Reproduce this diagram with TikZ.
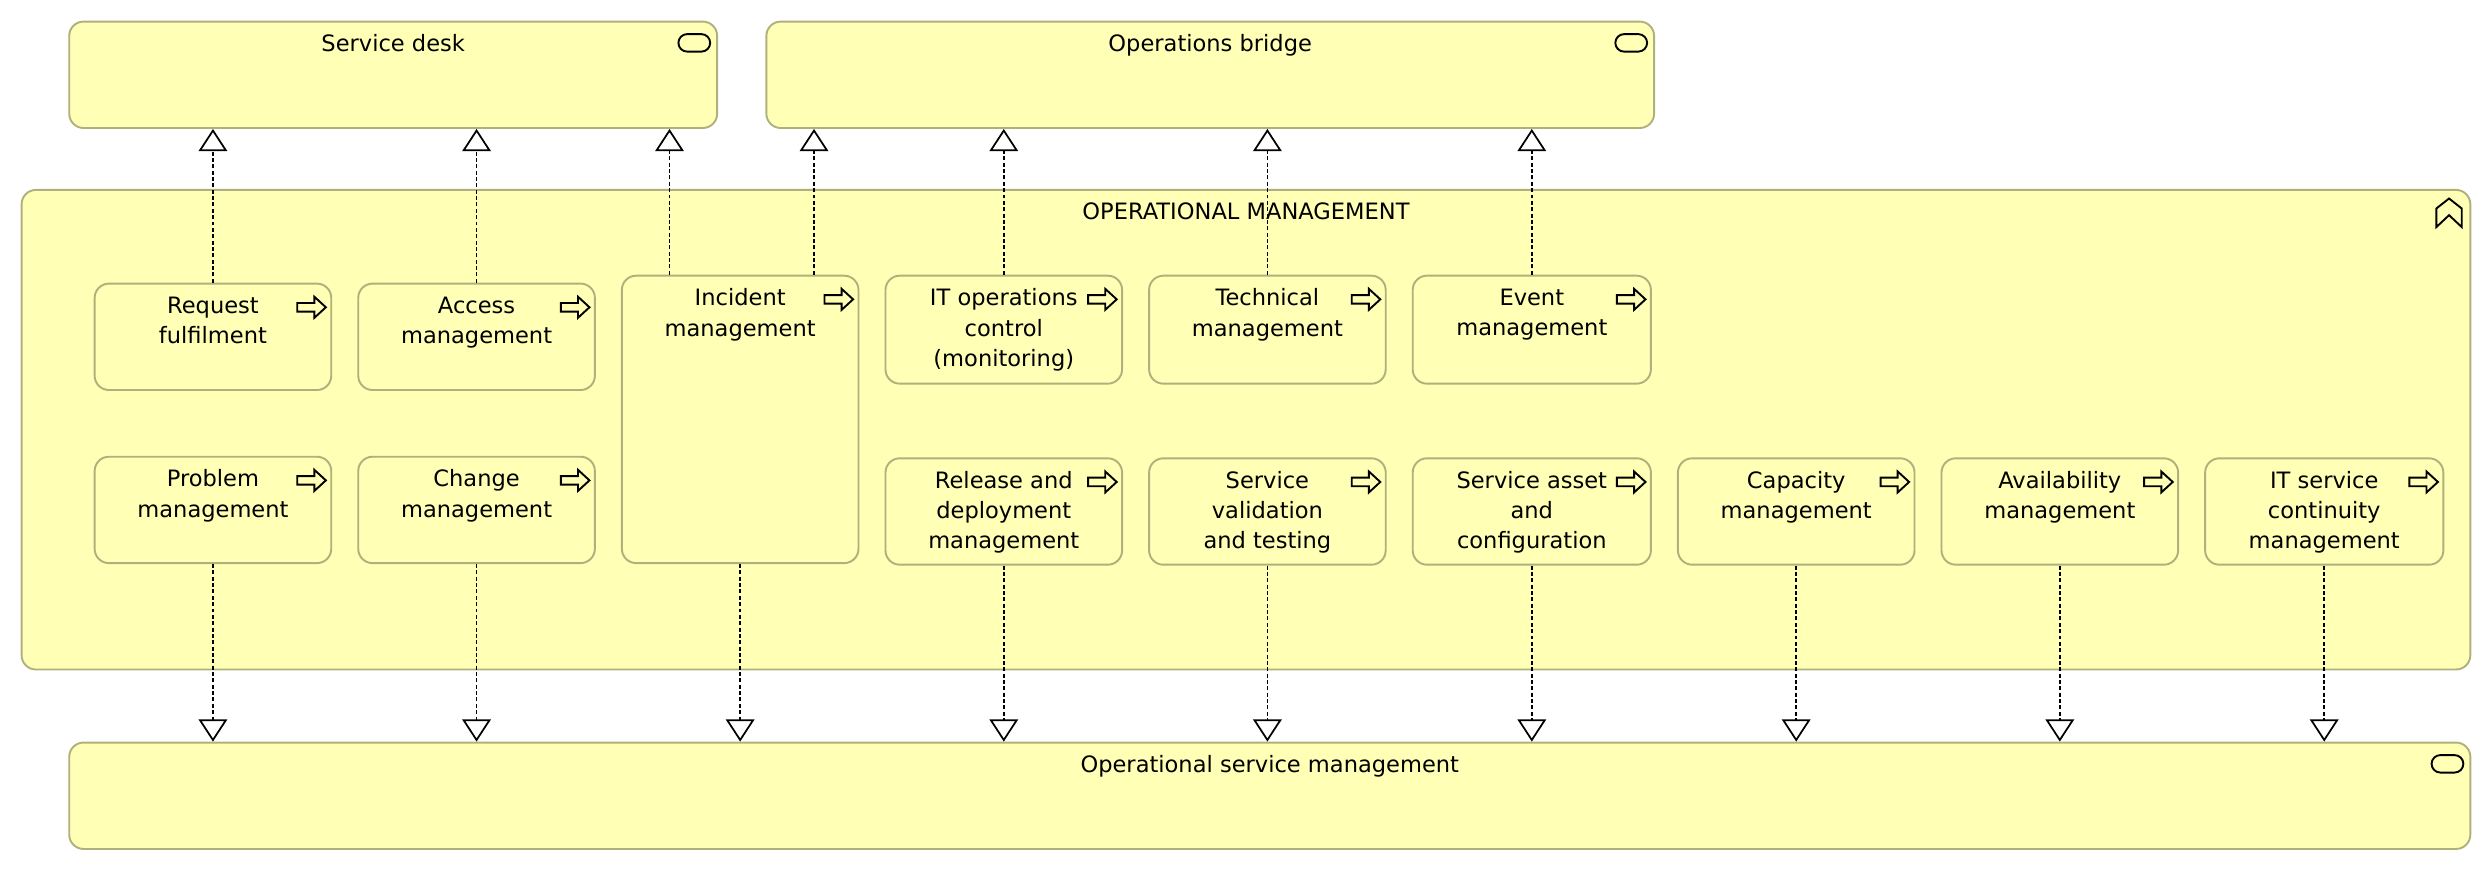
\documentclass[tikz,border=0pt]{standalone}
\usepackage{fontspec}
\setmainfont{DejaVu Sans}
\usetikzlibrary{arrows.meta}
\definecolor{amfill}{RGB}{255,255,181}
\definecolor{amline}{RGB}{176,176,124}
\tikzset{
  elem/.style={draw=amline, fill=amfill, line width=1.2pt, rounded corners=9pt, inner sep=0pt, anchor=north west},
  lbl/.style={anchor=north, inner sep=0pt, align=center, font=\fontsize{14.2}{19}\selectfont},
  real/.style={draw=black, line width=1pt, dash pattern=on 2.5pt off 1.5pt,
    -{Triangle[fill=white, width=18pt, length=14pt, line width=1.1pt]}},
  icon/.style={draw=black, line width=1.2pt, fill=amfill, line join=miter},
}
\newcommand\procbox[6]{%
  \node[elem, minimum width=#4pt, minimum height=#5pt] (#1) at (#2,-#3) {};
  \node[lbl] (#1-t) at ([yshift=-8.6pt]#1.north) {#6};
  \draw[icon] ([xshift=-13pt,yshift=-15.5pt]#1.north east) +(-9,-2.7) -- +(1.8,-2.7) -- +(1.8,-6.6) -- +(9,0) -- +(1.8,6.6) -- +(1.8,2.7) -- +(-9,2.7) -- cycle;
}
\newcommand\servbox[6]{%
  \node[elem, minimum width=#4pt, minimum height=#5pt] (#1) at (#2,-#3) {};
  \node[lbl] (#1-t) at ([yshift=-8.6pt]#1.north) {#6};
  \draw[icon, rounded corners=5.5pt] ([xshift=-15pt,yshift=-14pt]#1.north east) +(-10,-5.5) rectangle +(10,5.5);
}
\begin{document}
\begin{tikzpicture}[x=1pt,y=1pt]
\useasboundingbox (0,0) rectangle (1568,-548);
% grouping
\node[elem, minimum width=1542pt, minimum height=302pt] (grp) at (13,-119) {};
\node[lbl] (grp-t) at ([yshift=-8.6pt]grp.north) {OPERATIONAL MANAGEMENT};
\draw[icon] ([xshift=-14pt,yshift=-15pt]grp.north east) +(-8,-9) -- +(-8,2.7) -- +(0,9) -- +(8,2.7) -- +(8,-9) -- +(0,-1.5) -- cycle;
% services
\servbox{sd}{43}{13}{408}{67}{Service desk}
\servbox{ob}{482}{13}{559}{67}{Operations bridge}
\servbox{osm}{43}{467}{1512}{67}{Operational service management}
% processes row 1
\procbox{req}{59}{178}{149}{67}{Request\\fulfilment}
\procbox{acc}{225}{178}{149}{67}{Access\\management}
\procbox{inc}{391}{173}{149}{181}{Incident\\management}
\procbox{itc}{557}{173}{149}{68}{IT operations\\control\\(monitoring)}
\procbox{tech}{723}{173}{149}{68}{Technical\\management}
\procbox{evt}{889}{173}{150}{68}{Event\\management}
% processes row 2
\procbox{prob}{59}{287}{149}{67}{Problem\\management}
\procbox{chg}{225}{287}{149}{67}{Change\\management}
\procbox{rel}{557}{288}{149}{67}{Release and\\deployment\\management}
\procbox{svt}{723}{288}{149}{67}{Service\\validation\\and testing}
\procbox{sac}{889}{288}{150}{67}{Service asset\\and\\configuration}
\procbox{cap}{1056}{288}{149}{67}{Capacity\\management}
\procbox{avl}{1222}{288}{149}{67}{Availability\\management}
\procbox{itsc}{1388}{288}{150}{67}{IT service\\continuity\\management}
% realizations up
\draw[real] (req.north) -- (req.north |- sd.south);
\draw[real] (acc.north) -- (acc.north |- sd.south);
\draw[real] ([xshift=-44.5pt]inc.north) -- ([xshift=-44.5pt]inc.north |- sd.south);
\draw[real] ([xshift=46.5pt]inc.north) -- ([xshift=46.5pt]inc.north |- ob.south);
\draw[real] (itc.north) -- (itc.north |- ob.south);
\draw[real] (tech.north) -- (tech.north |- ob.south);
\draw[real] (evt.north) -- (evt.north |- ob.south);
% realizations down
\foreach \n in {prob,chg,inc,rel,svt,sac,cap,avl,itsc}{
  \draw[real] (\n.south) -- (\n.south |- osm.north);
}
\end{tikzpicture}
\end{document}
